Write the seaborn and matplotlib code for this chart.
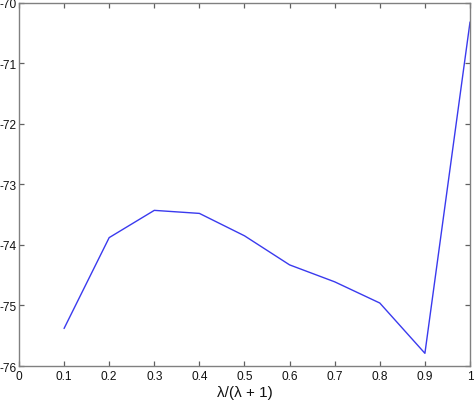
import matplotlib
matplotlib.use("Agg")
import matplotlib.pyplot as plt
import seaborn as sns
import pandas as pd

x_vals = [0.1, 0.2, 0.3, 0.4, 0.5, 0.6, 0.7, 0.8, 0.9, 1.0]
y_vals = [-75.38, -73.88, -73.43, -73.48, -73.85, -74.33, -74.61, -74.96, -75.79, -70.32]
x_ticks = [0, 0.1, 0.2, 0.3, 0.4, 0.5, 0.6, 0.7, 0.8, 0.9, 1]
x_tick_labels = ["0", "0.1", "0.2", "0.3", "0.4", "0.5", "0.6", "0.7", "0.8", "0.9", "1"]
y_ticks = [-76, -75, -74, -73, -72, -71, -70]
y_tick_labels = ["-76", "-75", "-74", "-73", "-72", "-71", "-70"]

sns.set_theme(style="white")
plt.rcParams['font.family'] = ['Liberation Sans', 'DejaVu Sans']

df = pd.DataFrame({"x": x_vals, "y": y_vals})

fig = plt.figure(figsize=(4.74, 4.02), dpi=100)
ax = fig.add_axes([0.040, 0.087, 0.9516, 0.904])
sns.lineplot(data=df, x="x", y="y", ax=ax, color="#3a3aee", linewidth=1.0)

ax.set_xlim(0, 1)
ax.set_ylim(-76, -70)
ax.set_xticks(x_ticks)
ax.set_xticklabels(x_tick_labels)
ax.set_yticks(y_ticks)
ax.set_yticklabels(y_tick_labels)
ax.tick_params(direction="in", length=3.6, width=0.9, color="#606060",
               labelsize=8.6, labelcolor="#111111", top=True, right=True,
               left=True, bottom=True)
ax.tick_params(axis="x", pad=3)
ax.tick_params(axis="y", pad=2)
for s in ax.spines.values():
    s.set_visible(True)
    s.set_color("#808080")
    s.set_linewidth(1.0)
ax.set_xlabel("λ/(λ + 1)", fontsize=11, color="#111111", labelpad=2)
ax.set_ylabel("")

fig.savefig("out.png", dpi=100)
